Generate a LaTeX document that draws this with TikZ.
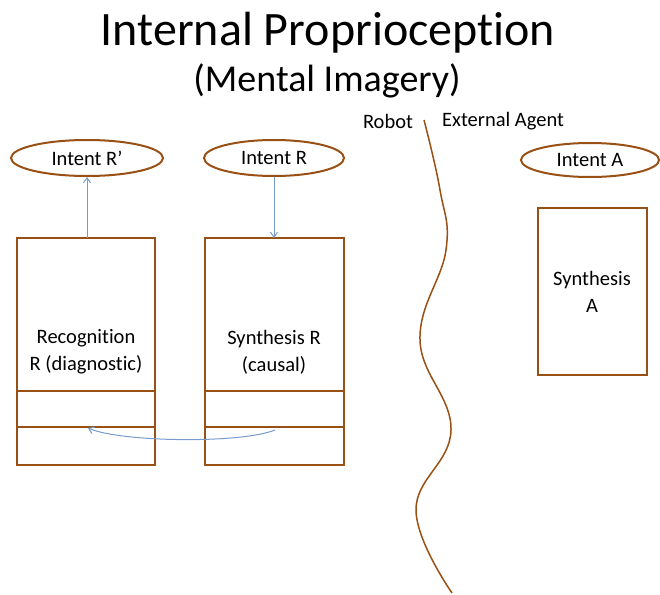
\documentclass[tikz,border=0pt]{standalone}
\usepackage{fontspec}
\setmainfont{Carlito}[Ligatures=NoCommon]
\usetikzlibrary{arrows.meta,shapes.geometric}
\definecolor{rim}{RGB}{152,80,20}
\definecolor{link}{RGB}{120,155,205}
\begin{document}
\begin{tikzpicture}[x=1pt,y=-1pt,
  oval/.style={draw=rim,line width=2pt,ellipse,minimum width=#1,minimum height=36pt,inner sep=0pt,font=\fontsize{20.5}{24}\selectfont},
  oval/.default=150pt,
  block/.style={draw=rim,line width=2pt},
  lbl/.style={font=\fontsize{20.5}{27}\selectfont,align=center},
  flow/.style={draw=link,line width=1pt,-{Straight Barb[length=5pt,width=7pt]}}]
\useasboundingbox (0,0) rectangle (660,594);

% headings
\node (title) at (328,33) {\fontsize{48}{56}\selectfont Internal Proprioception};
\node (sub) at (327,81) {\fontsize{38}{44}\selectfont (Mental Imagery)};

% intents
\node[oval=152pt] (irp) at (87,158) {Intent R’};
\node[oval=140pt] (ir) at (274,158) {Intent R};
\node[oval=138pt,minimum height=34pt] (ia) at (590,160) {Intent A};

% recognition block
\draw[block] (17,238) rectangle (155,465);
\draw[block] (17,391) -- (155,391) (17,427) -- (155,427);
\coordinate (rtop) at (87,238);
\coordinate (rlow) at (88,428);
\node[lbl] (rtext) at (86,352) {Recognition\\R (diagnostic)};

% synthesis block
\draw[block] (205,238) rectangle (344,465);
\draw[block] (205,391) -- (344,391) (205,427) -- (344,427);
\coordinate (stop) at (274,238);
\coordinate (slow) at (275,430);
\node[lbl] (stext) at (274,352) {Synthesis R\\(causal)};

% external agent block
\draw[block] (538,208) rectangle (647,375);
\node[lbl] (atext) at (592,292) {Synthesis\\A};

% connectors
\draw[flow] (rtop) -- (irp);
\draw[flow] (ir) -- (stop);
\draw[flow] (slow) .. controls (240,444) and (120,442) .. (rlow);

% divider between robot and external agent
\node[font=\fontsize{20.5}{24}\selectfont] (robot) at (388,121) {Robot};
\node[font=\fontsize{20.5}{24}\selectfont] (ext) at (503,121) {External Agent};
\draw[rim,line width=1.5pt] plot[smooth,tension=0.7] coordinates
  {(424,120) (440,190) (446,250) (420,340) (451,430) (416,510) (452,593)};
\end{tikzpicture}
\end{document}
